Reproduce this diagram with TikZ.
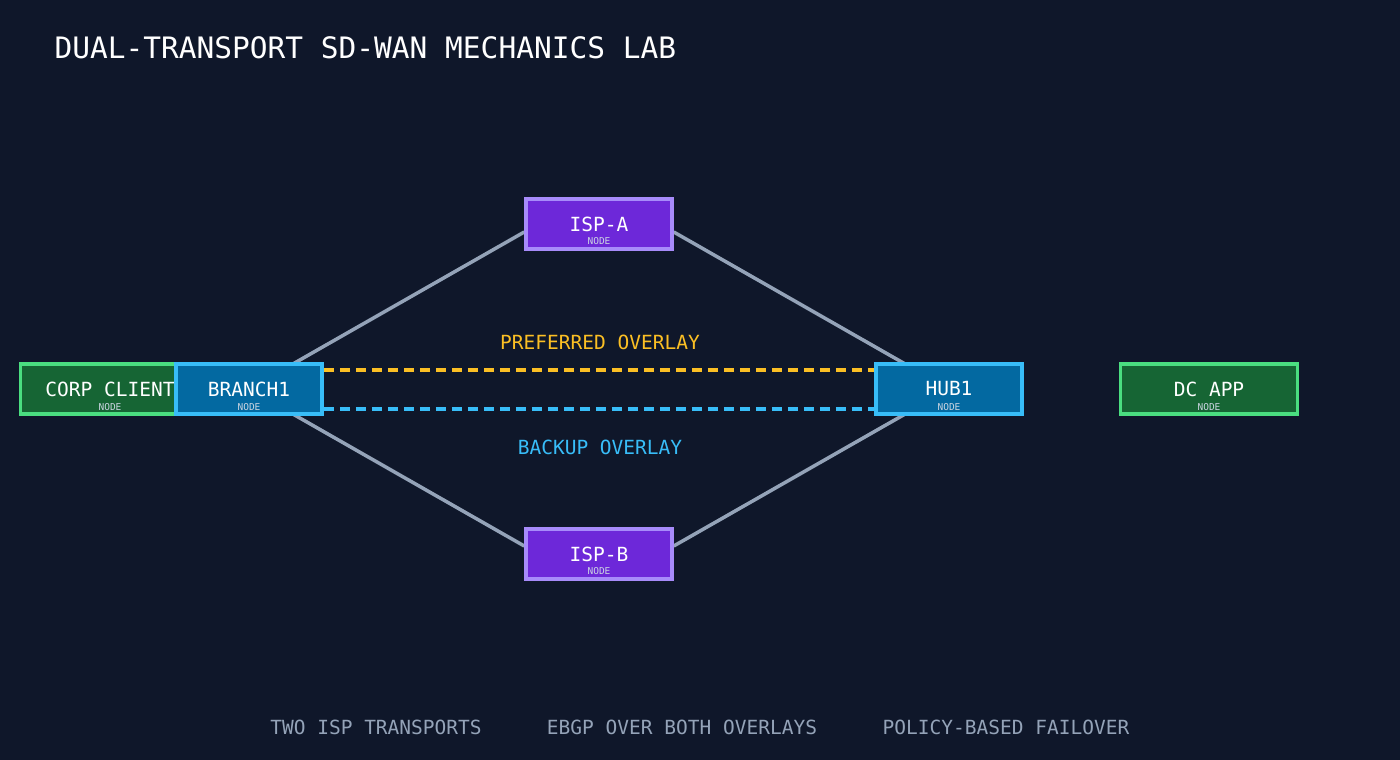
\documentclass[tikz,border=0pt]{standalone}
\usepackage{fontspec}
\setmonofont{DejaVu Sans Mono}
\usetikzlibrary{calc,backgrounds}
\pgfdeclarelayer{canvas}
\pgfsetlayers{canvas,background,main}
\definecolor{bg}{HTML}{0F172A}
\definecolor{greenfill}{HTML}{166534}
\definecolor{greenline}{HTML}{4ADE80}
\definecolor{bluefill}{HTML}{0369A1}
\definecolor{blueline}{HTML}{38BDF8}
\definecolor{purplefill}{HTML}{6D28D9}
\definecolor{purpleline}{HTML}{A78BFA}
\definecolor{linkgray}{HTML}{94A3B8}
\definecolor{amber}{HTML}{FBBF24}
\definecolor{sub}{HTML}{CBD5E1}
\tikzset{
  box/.style={draw, line width=3.5pt, minimum height=50pt, inner sep=0pt},
  greenbox/.style={box, fill=greenfill, draw=greenline, minimum width=157pt},
  bluebox/.style={box, fill=bluefill, draw=blueline, minimum width=146pt},
  purplebox/.style={box, fill=purplefill, draw=purpleline, minimum width=146pt},
  lbl/.style={font=\ttfamily\fontsize{19.5}{20}\selectfont, text=white},
  sublbl/.style={font=\ttfamily\fontsize{9.5}{10}\selectfont, text=sub},
  link/.style={draw=linkgray, line width=3.5pt},
  ovl/.style={line width=3.5pt, dash pattern=on 10.5pt off 5.5pt},
  foot/.style={font=\ttfamily\fontsize{19.5}{20}\selectfont, text=linkgray},
}
\begin{document}
\begin{tikzpicture}[x=1pt,y=-1pt]
\begin{pgfonlayer}{canvas}
\fill[bg] (0,0) rectangle (1400,760);
\end{pgfonlayer}
\useasboundingbox (0,0) rectangle (1400,760);

\node[anchor=west, font=\ttfamily\fontsize{29.5}{30}\selectfont, text=white] (title) at (51,48) {DUAL-TRANSPORT SD-WAN MECHANICS LAB};

% boxes
\node[greenbox] (corp) at (99,389) {};
\node[lbl] (corpl) at (110,389) {CORP CLIENT};
\node[sublbl] (corps) at (110,407) {NODE};
\node[bluebox] (branch) at (249,389) {};
\node[lbl] (branchl) at (249,389) {BRANCH1};
\node[sublbl] (branchs) at (249,407) {NODE};
\node[purplebox] (ispa) at (599,224) {};
\node[lbl] (ispal) at (599,224) {ISP-A};
\node[sublbl] (ispas) at (599,241) {NODE};
\node[purplebox] (ispb) at (599,554) {};
\node[lbl] (ispbl) at (599,554) {ISP-B};
\node[sublbl] (ispbs) at (599,571) {NODE};
\node[bluebox] (hub) at (949,389) {};
\node[lbl] (hubl) at (949,389) {HUB1};
\node[sublbl] (hubs) at (949,407) {NODE};
\node[greenbox, minimum width=177pt] (dc) at (1209,389) {};
\node[lbl] (dcl) at (1209,389) {DC APP};
\node[sublbl] (dcs) at (1209,407) {NODE};

% transport links behind boxes
\coordinate (ispaW) at ($(ispa.west)+(0,8)$);
\coordinate (ispaE) at ($(ispa.east)+(0,8)$);
\coordinate (ispbW) at ($(ispb.west)+(0,-8)$);
\coordinate (ispbE) at ($(ispb.east)+(0,-8)$);
\begin{pgfonlayer}{background}
\draw[link] (branch.center) -- (ispaW);
\draw[link] (branch.center) -- (ispbW);
\draw[link] (hub.center) -- (ispaE);
\draw[link] (hub.center) -- (ispbE);
\end{pgfonlayer}

% overlays
\coordinate (bo1) at ($(branch.east)+(0,-19)$);
\coordinate (ho1) at ($(hub.west)+(0,-19)$);
\coordinate (bo2) at ($(branch.east)+(0,20)$);
\coordinate (ho2) at ($(hub.west)+(0,20)$);
\begin{pgfonlayer}{background}
\draw[ovl, draw=amber] (bo1) -- (ho1);
\draw[ovl, draw=blueline] (bo2) -- (ho2);
\end{pgfonlayer}
\node[lbl, text=amber] (pref) at (600,342) {PREFERRED OVERLAY};
\node[lbl, text=blueline] (back) at (600,447) {BACKUP OVERLAY};

% footer
\node[foot] (f1) at (376,727) {TWO ISP TRANSPORTS};
\node[foot] (f2) at (682,727) {EBGP OVER BOTH OVERLAYS};
\node[foot] (f3) at (1006,727) {POLICY-BASED FAILOVER};
\end{tikzpicture}
\end{document}
